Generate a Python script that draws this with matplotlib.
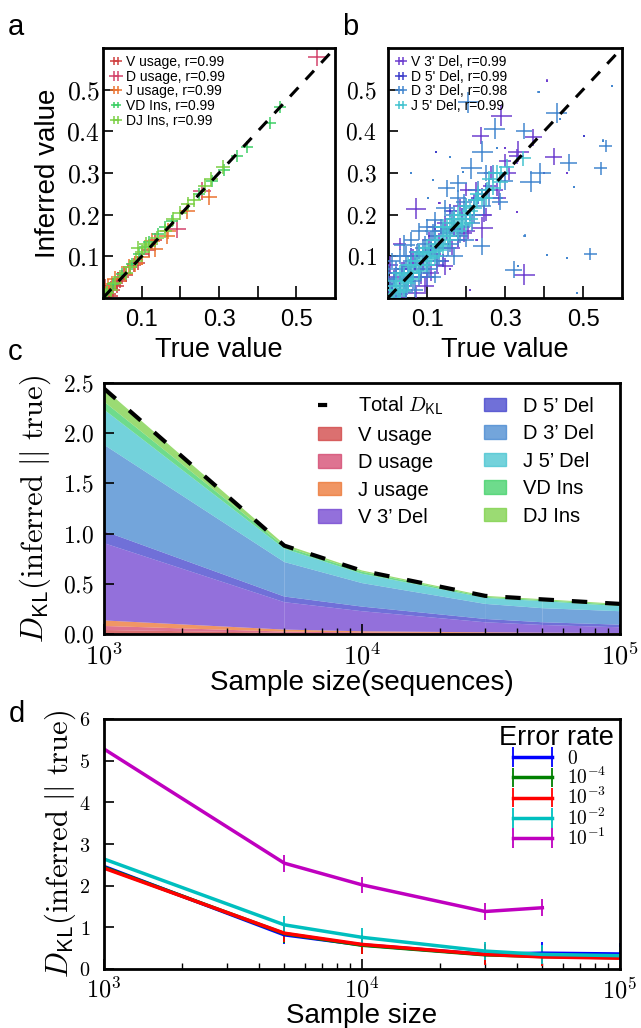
import numpy as np
import matplotlib
matplotlib.use('Agg')
import matplotlib.pyplot as plt
from matplotlib.ticker import FixedLocator, FixedFormatter, FuncFormatter, LogLocator, NullFormatter
from matplotlib.lines import Line2D
from matplotlib.patches import Patch

plt.rcParams['font.family'] = ['Liberation Sans', 'DejaVu Sans']
plt.rcParams['mathtext.fontset'] = 'cm'

# ---------------- data: panel a (true, inferred) ----------------
vusage_true = [0.005, 0.01, 0.015, 0.02, 0.02, 0.025, 0.03, 0.035, 0.04, 0.045, 0.05, 0.055, 0.06, 0.07, 0.08, 0.09, 0.10, 0.12, 0.135]
vusage_inf  = [0.030, 0.012, 0.010, 0.025, 0.005, 0.020, 0.035, 0.030, 0.045, 0.040, 0.050, 0.060, 0.055, 0.075, 0.080, 0.085, 0.105, 0.115, 0.140]
dusage_true = [0.554, 0.191, 0.255]
dusage_inf  = [0.578, 0.166, 0.256]
jusage_true = [0.273, 0.217, 0.135, 0.165, 0.126, 0.100, 0.066, 0.031, 0.014, 0.057, 0.083, 0.022, 0.169]
jusage_inf  = [0.242, 0.210, 0.118, 0.150, 0.138, 0.098, 0.074, 0.046, 0.026, 0.058, 0.082, 0.034, 0.162]
vdins_true = [0.459, 0.433, 0.372, 0.346, 0.312, 0.282, 0.247, 0.178, 0.143, 0.109, 0.092, 0.074, 0.048, 0.027, 0.010, 0.120, 0.160]
vdins_inf  = [0.458, 0.420, 0.362, 0.340, 0.308, 0.282, 0.250, 0.186, 0.154, 0.122, 0.106, 0.082, 0.058, 0.034, 0.014, 0.135, 0.170]
djins_true = [0.310, 0.280, 0.265, 0.235, 0.220, 0.200, 0.180, 0.160, 0.140, 0.120, 0.100, 0.085, 0.070, 0.060, 0.045, 0.030, 0.020, 0.010, 0.005, 0.110, 0.090]
djins_inf  = [0.315, 0.285, 0.270, 0.235, 0.225, 0.205, 0.190, 0.160, 0.145, 0.125, 0.110, 0.090, 0.075, 0.060, 0.050, 0.035, 0.020, 0.012, 0.008, 0.130, 0.120]

# ---------------- data: panel b (true, inferred, weight) ----------------
v3del_true = [0.01, 0.02, 0.03, 0.04, 0.05, 0.06, 0.07, 0.08, 0.09, 0.10, 0.11, 0.12, 0.13, 0.14, 0.15, 0.16, 0.17, 0.18, 0.20, 0.22, 0.24, 0.26,
              0.291, 0.238, 0.334, 0.425, 0.373, 0.242, 0.195, 0.072, 0.145, 0.349, 0.096, 0.072, 0.005, 0.03, 0.11, 0.20, 0.25, 0.30, 0.28, 0.12,
              0.005, 0.015, 0.025, 0.035, 0.045, 0.065, 0.085, 0.105, 0.125, 0.145, 0.165, 0.185, 0.205, 0.225, 0.245, 0.265, 0.285, 0.31, 0.33,
              0.408, 0.33, 0.21, 0.459, 0.132, 0.227, 0.30, 0.16]
v3del_inf  = [0.015, 0.01, 0.04, 0.03, 0.06, 0.05, 0.085, 0.07, 0.10, 0.09, 0.12, 0.105, 0.14, 0.13, 0.165, 0.15, 0.19, 0.17, 0.19, 0.235, 0.25, 0.27,
              0.438, 0.39, 0.351, 0.339, 0.386, 0.169, 0.155, 0.214, 0.076, 0.056, 0.029, 0.012, 0.08, 0.13, 0.06, 0.26, 0.20, 0.33, 0.26, 0.17,
              0.03, 0.05, 0.0, 0.07, 0.02, 0.10, 0.05, 0.14, 0.08, 0.18, 0.12, 0.22, 0.16, 0.26, 0.20, 0.30, 0.24, 0.30, 0.34,
              0.522, 0.207, 0.02, 0.299, 0.227, 0.139, 0.36, 0.07]
v3del_w    = [.6, .6, .6, .8, .6, .8, .6, .6, .6, .8, .6, .6, .6, .6, .6, .6, .6, .6, .6, .6, .6, .6,
              1, .8, 1, .8, .8, 1, .8, 1, .8, 1, .8, .8, .8, .6, .8, .6, .6, .6, .6, .8,
              .7, .7, .7, .7, .7, .7, .7, .7, .7, .7, .7, .7, .7, .7, .7, .7, .7, .7, .7,
              .1, .1, .1, .1, .1, .1, .1, .1]
d5del_true = [0.01, 0.03, 0.05, 0.07, 0.09, 0.11, 0.13, 0.15, 0.17, 0.19, 0.21, 0.23, 0.06, 0.10, 0.16, 0.25, 0.02, 0.14,
              0.04, 0.08, 0.12, 0.18, 0.502, 0.124, 0.184, 0.40]
d5del_inf  = [0.02, 0.02, 0.045, 0.08, 0.08, 0.115, 0.12, 0.155, 0.165, 0.20, 0.20, 0.24, 0.10, 0.05, 0.21, 0.26, 0.06, 0.09,
              0.07, 0.11, 0.15, 0.14, 0.388, 0.351, 0.203, 0.30]
d5del_w    = [.6, .6, .6, .6, .6, .6, .6, .6, .6, .6, .6, .6, .8, .8, .6, .6, .6, .6, .7, .7, .7, .7, .1, .1, .1, .1]
d3del_true = [0.206, 0.274, 0.349, 0.242, 0.214, 0.18, 0.15, 0.366, 0.39, 0.463, 0.545, 0.433, 0.558, 0.287, 0.24, 0.322, 0.519, 0.042, 0.046, 0.12, 0.145,
              0.01, 0.02, 0.03, 0.05, 0.06, 0.08, 0.09, 0.10, 0.11, 0.13, 0.14, 0.16, 0.17, 0.19, 0.20, 0.22, 0.23, 0.26, 0.08, 0.17, 0.0, 0.12, 0.25, 0.30,
              0.005, 0.015, 0.025, 0.035, 0.045, 0.055, 0.065, 0.075, 0.085, 0.095, 0.105, 0.115, 0.125, 0.135, 0.155, 0.165, 0.185, 0.195, 0.215, 0.245,
              0.27, 0.01, 0.03, 0.07, 0.10, 0.18, 0.20, 0.06,
              0.575, 0.386, 0.552, 0.291, 0.408, 0.459, 0.334, 0.485, 0.115, 0.476, 0.158, 0.193, 0.102, 0.28, 0.50, 0.06, 0.35, 0.44]
d3del_inf  = [0.47, 0.406, 0.401, 0.351, 0.311, 0.275, 0.263, 0.279, 0.299, 0.325, 0.311, 0.444, 0.365, 0.231, 0.124, 0.068, 0.106, 0.127, 0.10, 0.187, 0.215,
              0.03, 0.07, 0.01, 0.04, 0.09, 0.05, 0.12, 0.08, 0.14, 0.10, 0.16, 0.13, 0.20, 0.17, 0.22, 0.20, 0.26, 0.24, 0.16, 0.10, 0.06, 0.05, 0.30, 0.28,
              0.02, 0.045, 0.005, 0.06, 0.015, 0.075, 0.04, 0.11, 0.06, 0.13, 0.07, 0.16, 0.09, 0.17, 0.12, 0.19, 0.15, 0.23, 0.18, 0.22,
              0.30, 0.09, 0.10, 0.02, 0.17, 0.24, 0.14, 0.14,
              0.508, 0.494, 0.378, 0.239, 0.104, 0.096, 0.076, 0.012, 0.283, 0.267, 0.339, 0.303, 0.239, 0.36, 0.50, 0.30, 0.15, 0.43]
d3del_w    = [1, 1, .8, 1, 1, .8, .8, 1, 1, .8, .6, 1, .6, .8, .8, .8, .6, 1, 1, .8, .8,
              .8, .8, .8, .8, .8, .8, .8, .8, .8, .8, .8, .8, .8, .8, .8, .8, .8, .8, .8, .8, .8, .6, .8, .8,
              .75, .75, .75, .75, .75, .75, .75, .75, .75, .75, .75, .75, .75, .75, .75, .75, .75, .75, .75, .75,
              .75, .75, .75, .75, .75, .75, .75, .75,
              .1, .1, .1, .1, .1, .1, .1, .1, .1, .1, .1, .1, .1, .1, .1, .1, .1, .1]
j5del_true = [0.005, 0.015, 0.025, 0.035, 0.045, 0.055, 0.065, 0.075, 0.085, 0.095, 0.105, 0.115, 0.125, 0.135, 0.145, 0.155, 0.165, 0.175,
              0.185, 0.195, 0.21, 0.225, 0.24, 0.255, 0.27, 0.287, 0.291, 0.304, 0.347, 0.227, 0.06, 0.10, 0.14, 0.18, 0.02, 0.04,
              0.01, 0.02, 0.03, 0.04, 0.05, 0.06, 0.07, 0.08, 0.09, 0.10, 0.11, 0.12, 0.13, 0.14, 0.15, 0.16, 0.17, 0.18, 0.19, 0.20,
              0.21, 0.22, 0.23, 0.25, 0.26, 0.28, 0.03, 0.05, 0.08, 0.12, 0.16, 0.20]
j5del_inf  = [0.01, 0.02, 0.02, 0.04, 0.04, 0.06, 0.06, 0.08, 0.09, 0.09, 0.11, 0.11, 0.13, 0.13, 0.15, 0.15, 0.17, 0.17,
              0.19, 0.20, 0.21, 0.235, 0.24, 0.26, 0.265, 0.279, 0.299, 0.315, 0.335, 0.235, 0.08, 0.08, 0.17, 0.16, 0.04, 0.02,
              0.0, 0.03, 0.015, 0.055, 0.035, 0.045, 0.09, 0.065, 0.105, 0.12, 0.095, 0.14, 0.115, 0.125, 0.17, 0.14, 0.19, 0.20, 0.175, 0.22,
              0.19, 0.215, 0.25, 0.24, 0.285, 0.30, 0.06, 0.08, 0.11, 0.10, 0.18, 0.18]

# ---------------- data: panel c (stacked D_KL contributions) ----------------
sample_sizes = [1e3, 5e3, 1e4, 3e4, 5e4, 1e5]
dkl_v_usage = [0.040, 0.012, 0.008, 0.005, 0.004, 0.003]
dkl_d_usage = [0.040, 0.012, 0.008, 0.005, 0.004, 0.003]
dkl_j_usage = [0.055, 0.020, 0.011, 0.007, 0.005, 0.004]
dkl_v3_del  = [0.770, 0.273, 0.200, 0.100, 0.077, 0.057]
dkl_d5_del  = [0.120, 0.056, 0.046, 0.033, 0.027, 0.026]
dkl_d3_del  = [0.860, 0.344, 0.234, 0.150, 0.140, 0.134]
dkl_j5_del  = [0.350, 0.133, 0.093, 0.060, 0.070, 0.050]
dkl_vd_ins  = [0.080, 0.023, 0.020, 0.010, 0.010, 0.013]
dkl_dj_ins  = [0.130, 0.020, 0.013, 0.010, 0.010, 0.010]
dkl_total   = [2.445, 0.880, 0.630, 0.380, 0.345, 0.300]
layer_names = ['V usage', 'D usage', 'J usage', "V 3\u2019 Del", "D 5\u2019 Del",
               "D 3\u2019 Del", "J 5\u2019 Del", 'VD Ins', 'DJ Ins']

# ---------------- data: panel d (error rates) ----------------
err_labels = ['$0$', '$10^{-4}$', '$10^{-3}$', '$10^{-2}$', '$10^{-1}$']
d_err0    = [2.46, 0.82, 0.58, 0.35, 0.38, 0.36]
d_err1e4  = [2.44, 0.85, 0.57, 0.34, 0.30, 0.27]
d_err1e3  = [2.42, 0.86, 0.59, 0.35, 0.29, 0.26]
d_err1e2  = [2.64, 1.06, 0.76, 0.43, 0.35, 0.32]
d_err1e1  = [5.28, 2.54, 2.02, 1.38, 1.47]
e_err0    = [0.0, 0.22, 0.22, 0.22, 0.26, 0.27]
e_err1e4  = [0.0, 0.22, 0.22, 0.22, 0.22, 0.22]
e_err1e3  = [0.0, 0.22, 0.22, 0.25, 0.22, 0.22]
e_err1e2  = [0.0, 0.22, 0.22, 0.22, 0.22, 0.22]
e_err1e1  = [0.0, 0.20, 0.20, 0.20, 0.20]

# ---------------- styling ----------------
col_vu, col_du, col_ju = '#d04040', '#d3446c', '#eb7330'
col_v3, col_d5, col_d3, col_j5 = '#6f40d0', '#4040cb', '#4487d0', '#44c3d0'
col_vd, col_dj = '#3ed066', '#7ad044'
layer_cols = [col_vu, col_du, col_ju, col_v3, col_d5, col_d3, col_j5, col_vd, col_dj]

W, H = 641, 1028
fig = plt.figure(figsize=(W / 100, H / 100), dpi=100)


def ax_px(l, t, r, b):
    return fig.add_axes([l / W, 1 - b / H, (r - l) / W, (b - t) / H])


def style(ax, lw=2.0):
    for s in ax.spines.values():
        s.set_linewidth(lw)
    ax.tick_params(which='both', direction='in', top=False, right=False)
    ax.tick_params(which='major', length=7, width=1.2)
    ax.tick_params(which='minor', length=4, width=1.0)


cm = lambda fmt: FuncFormatter(lambda v, p: ('$' + fmt + '$') % v)
YLAB = r'$D_{\mathsf{KL}}(\mathrm{inferred}\ ||\ \mathrm{true})$'

# ---------------- panels a, b ----------------
axa = ax_px(103, 48, 335, 298)
axb = ax_px(388, 48, 622, 298)
for ax in (axa, axb):
    ax.plot([0, 0.6], [0, 0.6], color='k', lw=2.2, ls=(0, (4, 3.5)), zorder=5)
    ax.set_xlim(0, 0.6)
    ax.set_ylim(0, 0.6)
    style(ax)
    ax.yaxis.set_major_locator(FixedLocator([0.1, 0.2, 0.3, 0.4, 0.5]))
    ax.yaxis.set_major_formatter(cm('%.1f'))
    ax.xaxis.set_major_locator(FixedLocator([0.1, 0.2, 0.3, 0.4, 0.5]))
    ax.xaxis.set_major_formatter(FixedFormatter(['0.1', '', '0.3', '', '0.5']))
    ax.tick_params(axis='x', labelsize=17, pad=8, length=9)
    ax.set_xlabel('True value', fontsize=19.5)
axa.tick_params(axis='y', pad=2, labelsize=18.5)
axb.tick_params(axis='y', pad=8, labelsize=17)
axa.set_ylabel('Inferred value', fontsize=20)

series_a = [(vusage_true, vusage_inf, col_vu, 'V usage, r=0.99', 10),
            (dusage_true, dusage_inf, col_du, 'D usage, r=0.99', 13),
            (jusage_true, jusage_inf, col_ju, 'J usage, r=0.99', 11),
            (vdins_true, vdins_inf, col_vd, 'VD Ins, r=0.99', 9),
            (djins_true, djins_inf, col_dj, 'DJ Ins, r=0.99', 10)]
for xt, yi, c, lab, ms in series_a:
    axa.plot(xt, yi, ls='none', marker='+', ms=ms, mew=1.1, color=c, label=lab)
axa.legend(loc='upper left', fontsize=10, frameon=False, numpoints=2, markerscale=0.55,
           handlelength=0.9, handletextpad=0.25, labelspacing=0.05, borderaxespad=0.2,
           borderpad=0.3)

series_b = [(v3del_true, v3del_inf, v3del_w, col_v3, "V 3' Del, r=0.99"),
            (d5del_true, d5del_inf, d5del_w, col_d5, "D 5' Del, r=0.99"),
            (d3del_true, d3del_inf, d3del_w, col_d3, "D 3' Del, r=0.98"),
            (j5del_true, j5del_inf, [0.75] * len(j5del_true), col_j5, "J 5' Del, r=0.99")]
for xt, yi, w, c, lab in series_b:
    w = np.asarray(w)
    axb.scatter(xt, yi, s=(15 * w) ** 2, marker='+', color=c, linewidths=1.1, zorder=3)
    axb.plot([], [], ls='none', marker='+', ms=6, mew=1.1, color=c, label=lab)
axb.legend(loc='upper left', fontsize=10, frameon=False, numpoints=2,
           handlelength=0.9, handletextpad=0.25, labelspacing=0.05, borderaxespad=0.2,
           borderpad=0.3)

# ---------------- panel c ----------------
axc = ax_px(104, 383, 620, 634)
layers = [dkl_v_usage, dkl_d_usage, dkl_j_usage, dkl_v3_del, dkl_d5_del,
          dkl_d3_del, dkl_j5_del, dkl_vd_ins, dkl_dj_ins]
for i in range(len(sample_sizes) - 1):
    axc.stackplot(sample_sizes[i:i + 2], [l[i:i + 2] for l in layers],
                  colors=layer_cols, alpha=0.75, lw=1.0)
axc.plot(sample_sizes, dkl_total, color='k', lw=3, ls=(0, (3.7, 4.3)), zorder=6)
axc.set_xscale('log')
axc.set_xlim(1e3, 1e5)
axc.set_ylim(0, 2.5)
style(axc)
axc.yaxis.set_major_locator(FixedLocator([0, 0.5, 1.0, 1.5, 2.0, 2.5]))
axc.yaxis.set_major_formatter(cm('%.1f'))
axc.xaxis.set_major_locator(LogLocator(base=10))
axc.xaxis.set_major_formatter(FuncFormatter(lambda v, p: r'$10^{%d}$' % round(np.log10(v))))
axc.xaxis.set_minor_formatter(NullFormatter())
axc.tick_params(axis='y', labelsize=17, pad=7)
axc.tick_params(axis='x', labelsize=19, pad=6)
axc.set_xlabel('Sample size(sequences)', fontsize=20)
axc.xaxis.set_label_coords(0.5, -0.145)
axc.set_ylabel(YLAB, fontsize=22)
axc.yaxis.set_label_coords(-0.098, 0.5)

handles = [Line2D([], [], color='k', lw=3, ls=(1.5, (3.7, 4.3)))]
handles += [Patch(facecolor=c, edgecolor=c, alpha=0.75) for c in layer_cols]
labels = [r'Total $D_{\mathsf{KL}}$'] + layer_names
axc.legend(handles, labels, loc='upper right', ncol=2, fontsize=14.5, frameon=False,
           handlelength=1.1, handleheight=0.65, handletextpad=0.85, columnspacing=2.0,
           labelspacing=0.42, bbox_to_anchor=(0.965, 0.985), borderaxespad=0)

# ---------------- panel d ----------------
axd = ax_px(104, 719, 620, 969)
d_series = [(d_err0, e_err0, 'b'), (d_err1e4, e_err1e4, 'g'), (d_err1e3, e_err1e3, 'r'),
            (d_err1e2, e_err1e2, 'c'), (d_err1e1, e_err1e1, 'm')]
for (yv, ev, c), lab in zip(d_series, err_labels):
    axd.errorbar(sample_sizes[:len(yv)], yv, yerr=ev, color=c, lw=2.5, elinewidth=1.3,
                 capsize=0, label=lab)
axd.set_xscale('log')
axd.set_xlim(1e3, 1e5)
axd.set_ylim(0, 6)
style(axd)
axd.yaxis.set_major_locator(FixedLocator([0, 1, 2, 3, 4, 5, 6]))
axd.yaxis.set_major_formatter(cm('%d'))
axd.xaxis.set_major_locator(LogLocator(base=10))
axd.xaxis.set_major_formatter(FuncFormatter(lambda v, p: r'$10^{%d}$' % round(np.log10(v))))
axd.xaxis.set_minor_formatter(NullFormatter())
axd.tick_params(axis='y', labelsize=14.5, pad=10)
axd.tick_params(axis='x', labelsize=17.5, pad=6)
axd.set_xlabel('Sample size', fontsize=20)
axd.xaxis.set_label_coords(0.5, -0.135)
axd.set_ylabel(YLAB, fontsize=22)
axd.yaxis.set_label_coords(-0.05, 0.5)
leg = axd.legend(loc='upper right', fontsize=14, frameon=False, title='Error rate',
                 title_fontsize=19.5, numpoints=2, handlelength=2.6, handletextpad=0.5,
                 labelspacing=-0.05, borderaxespad=0.1, borderpad=0.2)

# ---------------- panel letters ----------------
for ch, xp, yp in [('a', 8, 35), ('b', 342, 35), ('c', 8, 360), ('d', 9, 722)]:
    fig.text(xp / W, 1 - yp / H, ch, fontsize=21, va='baseline', ha='left')

fig.savefig('out.png', dpi=100)
